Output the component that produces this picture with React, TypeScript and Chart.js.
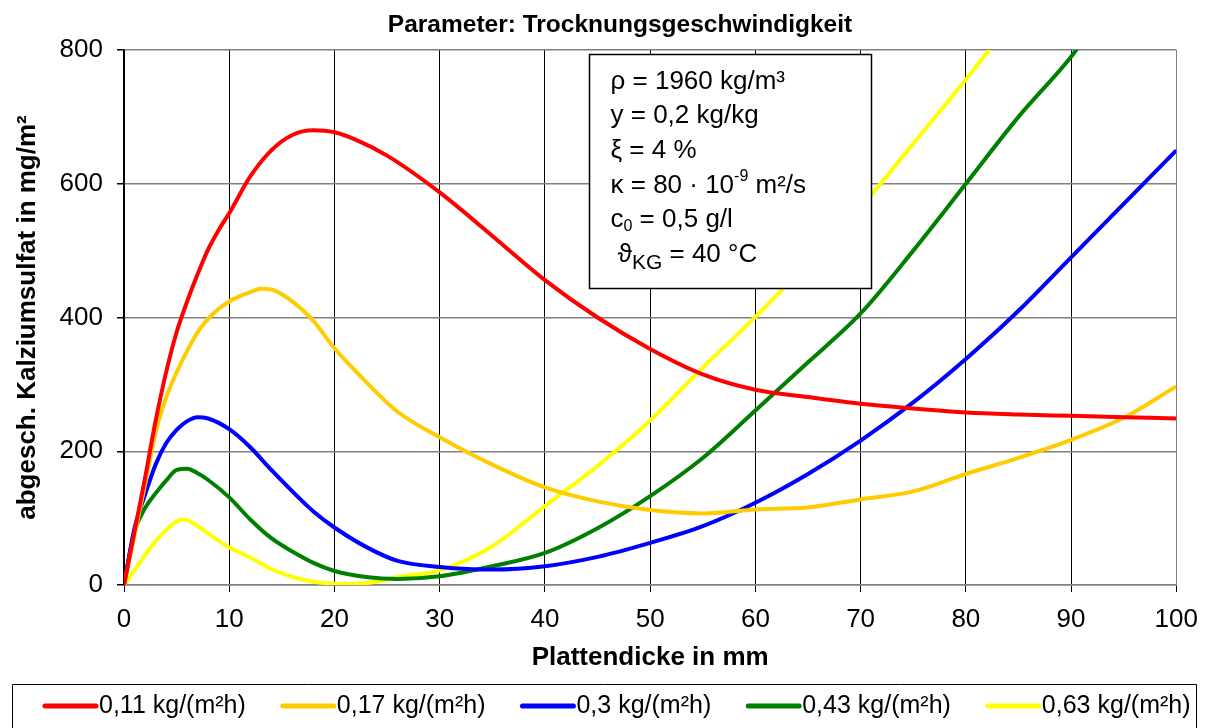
import React, { useEffect, useRef } from "react";
import { Chart, registerables } from "chart.js";

Chart.register(...registerables);

const FONT = '"Liberation Sans", Arial, Helvetica, sans-serif';

const chartTitle = "Parameter: Trocknungsgeschwindigkeit";
const xTitle = "Plattendicke in mm";
const yTitle = "abgesch. Kalziumsulfat in mg/m²";

const seriesLabels = ["0,11 kg/(m²h)", "0,17 kg/(m²h)", "0,3 kg/(m²h)", "0,43 kg/(m²h)", "0,63 kg/(m²h)"];
const seriesColors = ["#FF0000", "#FFCC00", "#0000FF", "#008000", "#FFFF00"];

const xTickValues = [0, 10, 20, 30, 40, 50, 60, 70, 80, 90, 100];
const yTickValues = [0, 200, 400, 600, 800];

// 0,11 kg/(m²h)
const redX = [0, 1, 2, 3, 4, 5, 6, 7, 8, 9, 10, 12, 14, 16, 18, 20, 22, 25, 30, 35, 40, 45, 50, 55, 60, 65, 70, 75, 80, 85, 90, 95, 100];
const redY = [0, 80, 160, 245, 318, 378, 424, 465, 502, 531, 556, 611, 650, 673, 680, 677, 666, 642, 587, 522, 456, 400, 353, 315, 292, 281, 271, 264, 258, 255, 253, 251, 249];

// 0,17 kg/(m²h)
const orangeX = [0, 1, 2, 3, 4, 5, 6, 7, 8, 9, 10, 11, 12, 13, 14, 16, 18, 20, 22, 26, 30, 35, 40, 45, 50, 55, 60, 65, 70, 75, 80, 85, 90, 95, 100];
const orangeY = [0, 75, 150, 228, 280, 318, 350, 378, 398, 413, 424, 432, 438, 443, 442, 424, 395, 354, 320, 259, 221, 180, 146, 125, 112, 107, 113, 116, 128, 140, 166, 190, 217, 250, 297];

// 0,3 kg/(m²h)
const blueX = [0, 1, 2, 3, 4, 5, 6, 7, 8, 10, 12, 14, 16, 18, 20, 23, 26, 30, 35, 40, 45, 50, 55, 60, 65, 70, 75, 80, 85, 90, 95, 100];
const blueY = [0, 85, 135, 180, 212, 232, 245, 251, 249, 233, 206, 172, 140, 110, 86, 57, 36, 27, 23, 28, 42, 63, 88, 123, 166, 216, 273, 338, 410, 490, 570, 650];

// 0,43 kg/(m²h)
const greenX = [0, 1, 2, 3, 4, 5, 6, 7, 8, 10, 12, 14, 16, 18, 20, 23, 26, 30, 35, 40, 45, 50, 55, 60, 65, 70, 75, 80, 85, 90, 95, 100];
const greenY = [0, 80, 115, 137, 156, 172, 174, 167, 157, 131, 98, 70, 50, 33, 21, 12, 9, 13, 28, 48, 85, 133, 190, 261, 333, 406, 500, 600, 700, 790, 900, 1010];

// 0,63 kg/(m²h)
const yellowX = [0, 1, 2, 3, 4, 5, 5.5, 6, 7, 8, 10, 12, 14, 16, 18, 20, 22, 24, 26, 30, 35, 40, 45, 50, 55, 60, 65, 70, 75, 80, 85, 90];
const yellowY = [0, 22, 45, 65, 82, 95, 98, 97, 88, 77, 56, 41, 24, 12, 5, 2, 2, 5, 12, 22, 58, 118, 178, 246, 325, 401, 482, 565, 660, 756, 855, 955];

const seriesX = [redX, orangeX, blueX, greenX, yellowX];
const seriesY = [redY, orangeY, blueY, greenY, yellowY];

// annotation text lines
const infoLines = [
  [{ t: "ρ = 1960 kg/m³" }],
  [{ t: "y = 0,2 kg/kg" }],
  [{ t: "ξ = 4 %" }],
  [{ t: "κ = 80 · 10" }, { t: "-9", sup: true }, { t: " m²/s" }],
  [{ t: "c" }, { t: "0", sub: true }, { t: " = 0,5 g/l" }],
  [{ t: " ϑ" }, { t: "KG", sub2: true }, { t: " = 40 °C" }],
];

const decorPlugin = {
  id: "decor",
  afterDatasetsDraw(chart: any) {
    const { ctx, chartArea } = chart;
    ctx.save();
    const bx = Math.round(chartArea.left + 465) + 0.5;
    const by = Math.round(chartArea.top + 4) + 0.5;
    const bw = 282;
    const bh = 234;
    ctx.fillStyle = "#ffffff";
    ctx.fillRect(bx, by, bw, bh);
    ctx.strokeStyle = "#000000";
    ctx.lineWidth = 1.5;
    ctx.strokeRect(bx, by, bw, bh);
    ctx.fillStyle = "#000000";
    ctx.textBaseline = "alphabetic";
    ctx.textAlign = "left";
    const main = 26;
    infoLines.forEach((segs: any[], i: number) => {
      let x = bx + 21;
      const base = by + 34 + i * 34.7;
      segs.forEach((s: any) => {
        let size = main;
        let dy = 0;
        if (s.sup) { size = 16; dy = -12; }
        if (s.sub) { size = 16; dy = 4; }
        if (s.sub2) { size = 21; dy = 7; }
        ctx.font = `${size}px ${FONT}`;
        ctx.fillText(s.t, x, base + dy);
        x += ctx.measureText(s.t).width;
      });
    });
    ctx.restore();
  },
  afterDraw(chart: any) {
    const { ctx } = chart;
    ctx.save();
    ctx.fillStyle = "#000";
    ctx.font = `bold 24.5px ${FONT}`;
    ctx.textAlign = "center";
    ctx.textBaseline = "middle";
    ctx.fillText(chartTitle, 620, 25);
    // legend frame
    ctx.strokeStyle = "#000";
    ctx.lineWidth = 1;
    ctx.beginPath();
    ctx.moveTo(12.5, 740);
    ctx.lineTo(12.5, 684.5);
    ctx.lineTo(1196.5, 684.5);
    ctx.lineTo(1196.5, 740);
    ctx.stroke();
    // legend items
    ctx.font = `25px ${FONT}`;
    ctx.textAlign = "left";
    ctx.textBaseline = "middle";
    let x = 43;
    const y = 706;
    chart.data.datasets.forEach((ds: any) => {
      ctx.strokeStyle = ds.borderColor;
      ctx.lineWidth = 5;
      ctx.lineCap = "round";
      ctx.beginPath();
      ctx.moveTo(x + 2, y);
      ctx.lineTo(x + 53, y);
      ctx.stroke();
      ctx.fillStyle = "#000";
      ctx.fillText(ds.label, x + 56, y);
      x += 56 + ctx.measureText(ds.label).width + 35;
    });
    ctx.restore();
  },
};

export default function App() {
  const canvasRef = useRef<HTMLCanvasElement | null>(null);

  useEffect(() => {
    if (!canvasRef.current) return;
    const datasets = seriesLabels.map((label, i) => ({
      label,
      data: seriesX[i].map((x, j) => ({ x, y: seriesY[i][j] })),
      borderColor: seriesColors[i],
      backgroundColor: seriesColors[i],
      borderWidth: 4,
      pointRadius: 0,
      fill: false,
      cubicInterpolationMode: "monotone" as const,
    }));

    const chart = new Chart(canvasRef.current, {
      type: "line",
      data: { datasets },
      plugins: [decorPlugin],
      options: {
        animation: false,
        responsive: true,
        maintainAspectRatio: false,
        layout: { padding: { top: 50, right: 33, bottom: 45, left: 0 } },
        plugins: {
          legend: { display: false },
          title: { display: false },
          tooltip: { enabled: false },
        },
        scales: {
          x: {
            type: "linear",
            min: 0,
            max: 100,
            afterBuildTicks: (s: any) => {
              s.ticks = xTickValues.map((v) => ({ value: v }));
            },
            ticks: {
              color: "#000",
              font: { family: FONT, size: 26 },
              padding: 12,
              maxRotation: 0,
              autoSkip: false,
            },
            grid: {
              color: (c: any) => (c.tick && c.tick.value === 100 ? "#808080" : "#000000"),
              lineWidth: 1,
              tickLength: 7,
              tickColor: "#000",
            },
            border: { color: "#808080", width: 1.5 },
            title: {
              display: true,
              text: xTitle,
              color: "#000",
              font: { family: FONT, size: 26, weight: "bold" },
              padding: { top: 0, bottom: 10 },
            },
            afterFit: (s: any) => {
              s.height = 98;
            },
          },
          y: {
            type: "linear",
            min: 0,
            max: 800,
            afterBuildTicks: (s: any) => {
              s.ticks = yTickValues.map((v) => ({ value: v }));
            },
            ticks: {
              color: "#000",
              font: { family: FONT, size: 26 },
              padding: 14,
              autoSkip: false,
            },
            grid: {
              color: "#808080",
              lineWidth: 1.5,
              tickLength: 7,
              tickColor: "#000",
            },
            border: { color: "#000", width: 1.5 },
            title: {
              display: true,
              text: yTitle,
              color: "#000",
              font: { family: FONT, size: 26, weight: "bold" },
              padding: { top: 12, bottom: 0 },
            },
            afterFit: (s: any) => {
              s.width = 124;
            },
          },
        },
      } as any,
    });
    return () => chart.destroy();
  }, []);

  return (
    <div style={{ position: "absolute", left: 0, top: 0, width: 1210, height: 728, background: "#fff" }}>
      <canvas ref={canvasRef} />
    </div>
  );
}
